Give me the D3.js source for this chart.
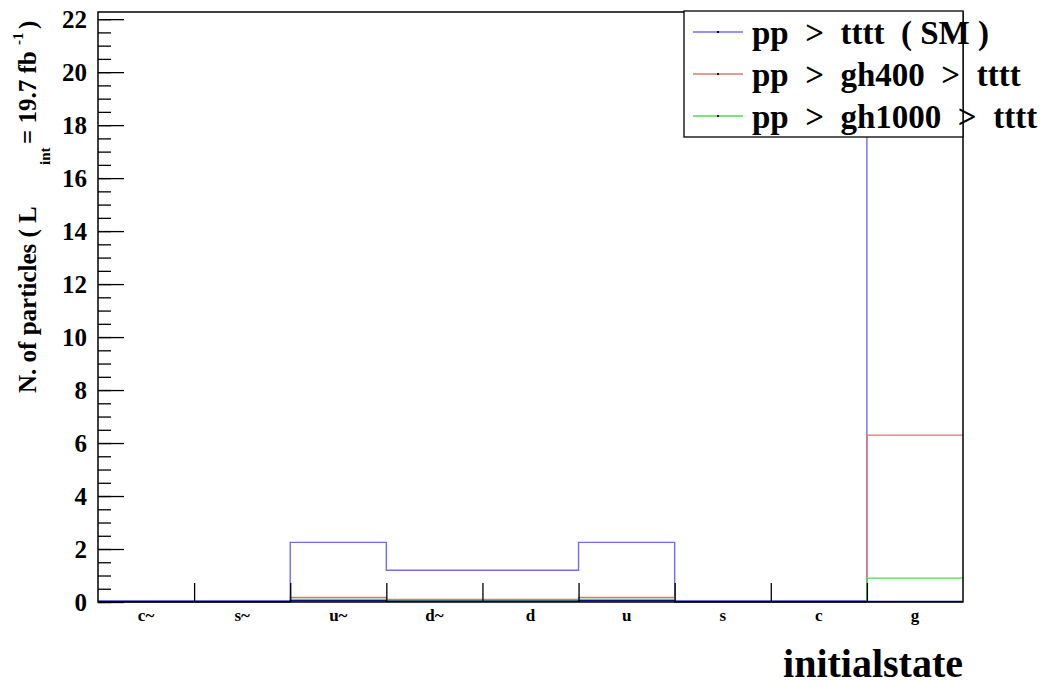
<!DOCTYPE html>
<html>
<head>
<meta charset="utf-8">
<script src="https://cdn.jsdelivr.net/npm/d3@7"></script>
<style>
  body { margin: 0; background: #fff; }
  text { font-family: "Liberation Serif", "DejaVu Serif", serif; font-weight: bold; }
</style>
</head>
<body>
<div id="chart"></div>
<script>
// bins of the initial state histogram
const categories = ["c~", "s~", "u~", "d~", "d", "u", "s", "c", "g"];
const smValues = [0.04, 0.04, 2.25, 1.2, 1.2, 2.25, 0.04, 0.04, 21.2];
const gh400Values = [0, 0, 0.17, 0.1, 0.1, 0.17, 0, 0, 6.3];
const gh1000Values = [0, 0, 0.1, 0.06, 0.06, 0.1, 0, 0, 0.9];
const baseValues = [0.02, 0.02, 0.05, 0.03, 0.03, 0.05, 0.02, 0.02, 0.02];
const yTicks = [0, 2, 4, 6, 8, 10, 12, 14, 16, 18, 20, 22];
const legendLabels = ["pp  >  tttt  ( SM )", "pp  >  gh400  >  tttt", "pp  >  gh1000  >  tttt"];

const W = 1052, H = 687;
const margin = {top: 12, right: 89, bottom: 85, left: 98};
const width = W - margin.left - margin.right,
      height = H - margin.top - margin.bottom;

const svg = d3.select("#chart")
  .append("svg")
  .attr("width", W)
  .attr("height", H);

const g = svg.append("g")
  .attr("transform", `translate(${margin.left},${margin.top})`);

// scales
const x = d3.scaleBand().domain(categories).range([0, width]).padding(0);
const xEdge = d3.scaleLinear().domain([0, categories.length]).range([0, width]);
const y = d3.scaleLinear().domain([0, 22.27]).range([height, 0]);

// step outline like a ROOT histogram
function stepPath(vals) {
  const pts = vals.map((v, i) => [xEdge(i), y(v)]);
  pts.push([xEdge(vals.length), y(vals[vals.length - 1])]);
  return d3.line().curve(d3.curveStepAfter)(pts);
}

const series = [
  {vals: smValues, color: "#6e6ef2"},
  {vals: gh400Values, color: "#e07474"},
  {vals: gh1000Values, color: "#4fdc4f"},
  {vals: baseValues, color: "#10108a"}
];

g.selectAll("path.hist")
  .data(series)
  .join("path")
  .attr("class", "hist")
  .attr("d", d => stepPath(d.vals))
  .attr("fill", "none")
  .attr("stroke", d => d.color)
  .attr("stroke-width", 1.4);

// y axis minor + major ticks
const minor = d3.range(0, 22.01, 0.5);
g.append("g")
  .call(d3.axisLeft(y).tickValues(minor).tickSize(-13).tickFormat(""))
  .call(a => a.select(".domain").remove())
  .selectAll("line").attr("stroke", "#000").attr("stroke-width", 1.3);

const yAxis = g.append("g")
  .call(d3.axisLeft(y).tickValues(yTicks).tickSize(-26).tickPadding(11));
yAxis.select(".domain").remove();
yAxis.selectAll("line").attr("stroke", "#000").attr("stroke-width", 1.3);
yAxis.selectAll("text")
  .attr("font-size", 25)
  .attr("fill", "#000")
  .style("font-family", "Liberation Serif")
  .style("font-weight", "bold");

// x axis: ticks at bin edges, labels at bin centres
const xTickAxis = g.append("g")
  .attr("transform", `translate(0,${height})`)
  .call(d3.axisBottom(xEdge).tickValues(d3.range(1, categories.length)).tickSize(-19).tickFormat(""));
xTickAxis.select(".domain").remove();
xTickAxis.selectAll("line").attr("stroke", "#000").attr("stroke-width", 1.3);

const xAxis = g.append("g")
  .attr("transform", `translate(0,${height})`)
  .call(d3.axisBottom(x).tickSize(0).tickPadding(7));
xAxis.select(".domain").remove();
xAxis.selectAll("text")
  .attr("font-size", 17)
  .attr("fill", "#000")
  .style("font-family", "Liberation Serif")
  .style("font-weight", "bold");

// frame
g.append("rect")
  .attr("width", width)
  .attr("height", height)
  .attr("fill", "none")
  .attr("stroke", "#000")
  .attr("stroke-width", 1.5);

// x title
svg.append("text")
  .attr("x", margin.left + width)
  .attr("y", 677)
  .attr("text-anchor", "end")
  .attr("font-size", 40)
  .text("initialstate");

// y title with sub/superscripts (ROOT latex style)
const yt = svg.append("text")
  .attr("transform", "translate(36,0) rotate(-90)")
  .attr("font-size", 25)
  .style("white-space", "pre");
yt.append("tspan").attr("x", -393).attr("y", 0).text("N. of particles ( L");
yt.append("tspan").attr("x", -165).attr("y", 14).attr("font-size", 15).text("int");
yt.append("tspan").attr("x", -144).attr("y", 0).text("= 19.7 fb");
yt.append("tspan").attr("x", -45).attr("y", -13).attr("font-size", 15).text("-1");
yt.append("tspan").attr("x", -29).attr("y", 0).text(")");

// legend
const legend = svg.append("g");
legend.append("rect")
  .attr("x", 684)
  .attr("y", 11)
  .attr("width", margin.left + width - 684)
  .attr("height", 126)
  .attr("fill", "#fff")
  .attr("stroke", "#000")
  .attr("stroke-width", 1.3);

const rows = legend.selectAll("g.row")
  .data(legendLabels)
  .join("g")
  .attr("class", "row")
  .attr("transform", (d, i) => `translate(0,${32 + i * 42})`);

rows.append("line")
  .attr("x1", 693).attr("x2", 743)
  .attr("stroke", (d, i) => series[i].color)
  .attr("stroke-width", 1.4);
rows.append("rect")
  .attr("x", 717).attr("y", -1).attr("width", 2).attr("height", 2)
  .attr("fill", "#000");
rows.append("text")
  .attr("x", 752)
  .attr("y", 12)
  .attr("font-size", 33)
  .style("white-space", "pre")
  .text(d => d);
</script>
</body>
</html>
